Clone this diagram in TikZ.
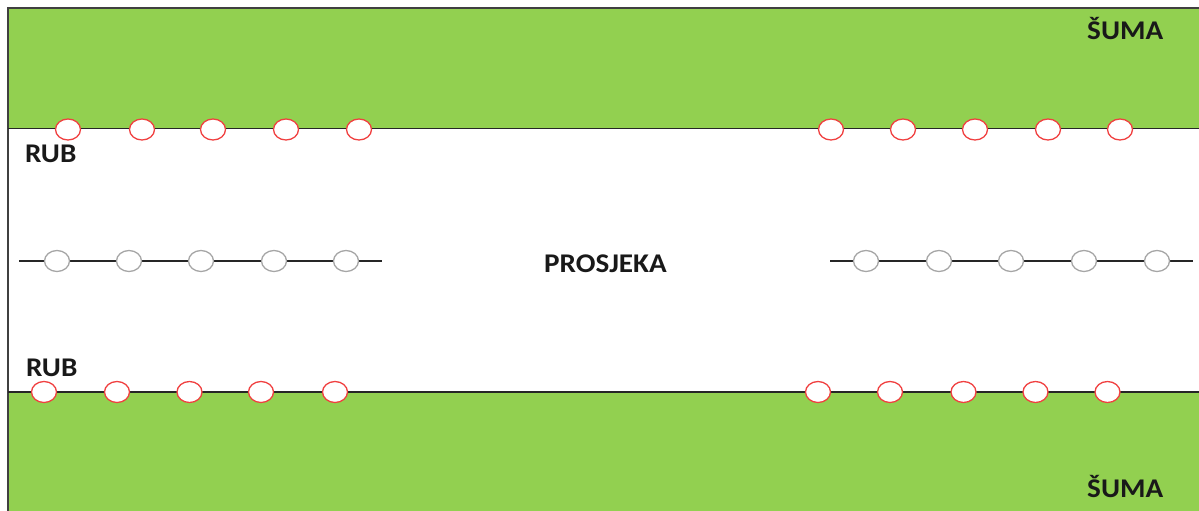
\documentclass[tikz,border=0pt]{standalone}
\usepackage{fontspec}
\setmainfont{Carlito}
\usetikzlibrary{shapes.geometric}
\definecolor{forest}{HTML}{92D050}
\definecolor{frame}{HTML}{404040}
\definecolor{redring}{HTML}{F04040}
\definecolor{grayring}{HTML}{A6A6A6}
\begin{document}
\begin{tikzpicture}[x=1pt,y=-1pt,
  redpost/.style={ellipse,draw=redring,line width=1.3pt,fill=white,minimum width=25pt,minimum height=21pt,inner sep=0pt},
  graypost/.style={ellipse,draw=grayring,line width=1.3pt,fill=white,minimum width=25pt,minimum height=21pt,inner sep=0pt},
  lbl/.style={font=\bfseries\fontsize{27}{32}\selectfont,anchor=base west,inner sep=0pt,text=black!90,xscale=1.08},
  wire/.style={draw=black!85,line width=1.2pt}]
\useasboundingbox (0,0) rectangle (1199,511);
% forest strips
\fill[forest] (8,8) rectangle (1199,128);
\fill[forest] (8,392) rectangle (1199,511);
\draw[frame,line width=2pt] (7.5,511) -- (7.5,8) -- (1199,8);
\draw[wire,line width=1.5pt] (8,128.5) -- (1199,128.5);
\draw[wire,line width=1.5pt] (8,392) -- (1199,392);
% gray lines
\coordinate (gl1) at (19,261);
\coordinate (gl2) at (382,261);
\coordinate (gr1) at (830,261);
\coordinate (gr2) at (1193,261);
\draw[wire] (gl1) -- (gl2);
\draw[wire] (gr1) -- (gr2);
% gray posts
\foreach \x [count=\i] in {57,129,201,274,346}
  \node[graypost] (gL\i) at (\x,261) {};
\foreach \x [count=\i] in {866,939,1011,1084,1157}
  \node[graypost] (gR\i) at (\x,261) {};
% red posts top
\foreach \x [count=\i] in {68,142,213,286,359}
  \node[redpost] (tL\i) at (\x,129.5) {};
\foreach \x [count=\i] in {831,903,975,1048,1120}
  \node[redpost] (tR\i) at (\x,129.5) {};
% red posts bottom
\foreach \x [count=\i] in {44,117,189.5,261,335}
  \node[redpost] (bL\i) at (\x,392) {};
\foreach \x [count=\i] in {818,890,963.5,1035.5,1107.5}
  \node[redpost] (bR\i) at (\x,392) {};
% labels
\node[lbl] (suma1) at (1087,40) {ŠUMA};
\node[lbl] (suma2) at (1087,497) {ŠUMA};
\node[lbl] (rub1) at (25,162) {RUB};
\node[lbl] (rub2) at (26,376) {RUB};
\node[lbl] (pros) at (544,272) {PROSJEKA};
\end{tikzpicture}
\end{document}
